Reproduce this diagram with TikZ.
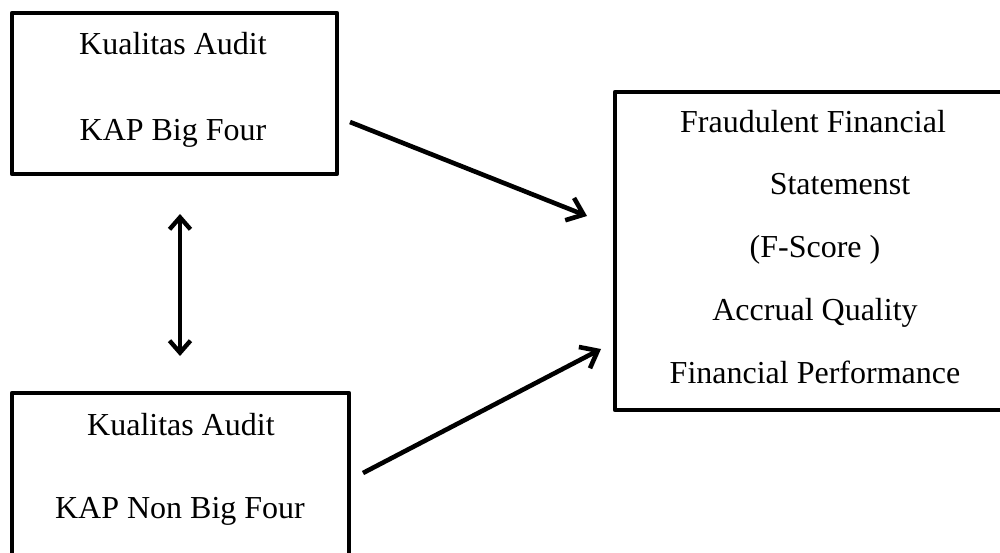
\documentclass[tikz,border=0pt]{standalone}
\usepackage{fontspec}
\setmainfont{Liberation Serif}
\usetikzlibrary{arrows.meta}
\begin{document}
\begin{tikzpicture}[x=1pt,y=-1pt,
  boxline/.style={line width=4.2pt,line join=round},
  txt/.style={anchor=base,inner sep=0pt,font=\fontsize{32}{38}\selectfont},
  conn/.style={line width=4.6pt,-{Straight Barb[length=15pt,width=24pt,line width=4.6pt]}},
  dconn/.style={line width=3.8pt,{Straight Barb[length=12pt,width=21pt,line width=4.4pt]}-{Straight Barb[length=12pt,width=21pt,line width=4.4pt]}}]
\useasboundingbox (0,0) rectangle (1000,553);
\clip (0,0) rectangle (1000,553);
% boxes
\draw[boxline] (12,13) rectangle (337,174);
\draw[boxline] (12,393) rectangle (349,560);
\draw[boxline] (615,92) rectangle (1010,410);
% texts
\node[txt] (t1) at (173,55) {Kualitas Audit};
\node[txt] (t2) at (173,141) {KAP Big Four};
\node[txt] (b1) at (181,435) {Kualitas Audit};
\node[txt] (b2) at (180,518) {KAP Non Big Four};
\node[txt] (r1) at (813,133) {Fraudulent Financial};
\node[txt] (r2) at (840,195) {Statemenst};
\node[txt] (r3) at (815,257) {(F-Score )};
\node[txt] (r4) at (815,320) {Accrual Quality};
\node[txt] (r5) at (815,383) {Financial Performance};
% connector ends
\coordinate (aS) at (350,122);
\coordinate (aE) at (587,216);
\coordinate (bS) at (363,473);
\coordinate (bE) at (601,349);
\coordinate (vS) at (180,214);
\coordinate (vE) at (180,356);
\draw[conn] (aS) -- (aE);
\draw[conn] (bS) -- (bE);
\draw[dconn] (vS) -- (vE);
\end{tikzpicture}
\end{document}
